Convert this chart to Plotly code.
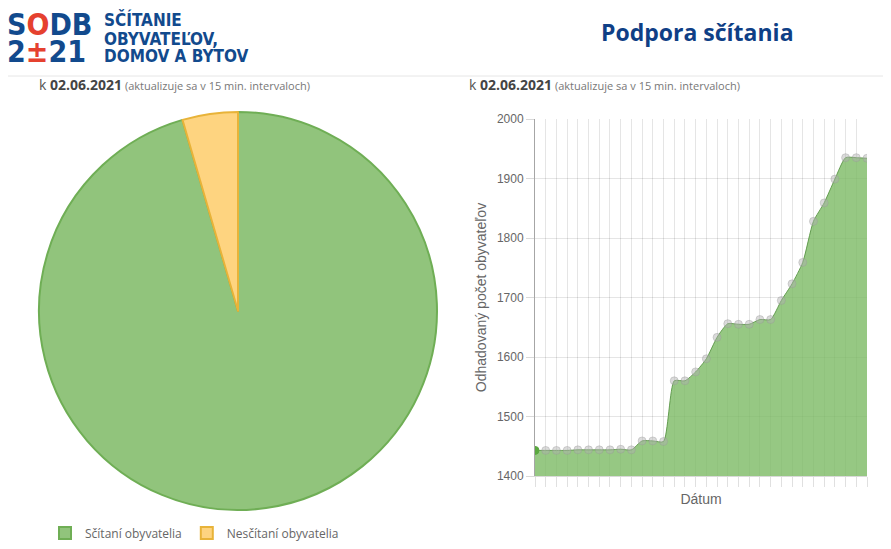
import plotly.graph_objects as go

# ---- data ----
pie_labels = ["Sčítaní obyvatelia", "Nesčítaní obyvatelia"]
pie_values = [95.5, 4.5]

dates = ["01.05.2021", "02.05.2021", "03.05.2021", "04.05.2021", "05.05.2021", "06.05.2021",
         "07.05.2021", "08.05.2021", "09.05.2021", "10.05.2021", "11.05.2021", "12.05.2021",
         "13.05.2021", "14.05.2021", "15.05.2021", "16.05.2021", "17.05.2021", "18.05.2021",
         "19.05.2021", "20.05.2021", "21.05.2021", "22.05.2021", "23.05.2021", "24.05.2021",
         "25.05.2021", "26.05.2021", "27.05.2021", "28.05.2021", "29.05.2021", "30.05.2021",
         "31.05.2021", "01.06.2021"]
estimate = [1443, 1443, 1443, 1443, 1444, 1444, 1444, 1444, 1445, 1444, 1459, 1459,
            1458, 1560, 1560, 1575, 1597, 1633, 1656, 1655, 1655, 1663, 1663, 1695,
            1723, 1759, 1828, 1859, 1899, 1935, 1935, 1934]
y_ticks = [1400, 1500, 1600, 1700, 1800, 1900, 2000]

# page is offset by the 8px body margin; map reference pixels to paper fractions
OFF = 8
W, H = 891 - OFF, 549 - OFF
def px(x): return (x - OFF) / W
def py(y): return 1 - (y - OFF) / H

BLUE = "#124a8d"
RED = "#e5412f"
GRAY = "#666666"

fig = go.Figure()

fig.add_trace(go.Pie(
    labels=pie_labels, values=pie_values, sort=False, direction="clockwise", rotation=0,
    textinfo="none", hoverinfo="label+value",
    marker=dict(colors=["#91c47c", "#fed480"],
                line=dict(color=["#6fae55", "#e8b339"], width=2)),
    domain=dict(x=[px(39), px(437)], y=[py(510), py(112)]),
    showlegend=True,
))

marker_colors = ["#5aa83f"] + ["rgba(175,175,175,0.45)"] * (len(dates) - 1)
marker_lines = ["#5aa83f"] + ["rgba(150,150,150,0.35)"] * (len(dates) - 1)
fig.add_trace(go.Scatter(
    x=dates, y=estimate, mode="lines+markers",
    line=dict(shape="spline", smoothing=0.6, color="rgba(90,150,70,0.9)", width=1),
    fill="tozeroy", fillcolor="rgba(124,186,100,0.8)",
    marker=dict(size=8, color=marker_colors, line=dict(color=marker_lines, width=1)),
    showlegend=False, xaxis="x", yaxis="y",
))

fig.update_layout(
    width=W, height=H, margin=dict(l=0, r=0, t=0, b=0, autoexpand=False),
    paper_bgcolor="white", plot_bgcolor="white",
    font=dict(family="Liberation Sans, Arial, sans-serif", color=GRAY),
    xaxis=dict(domain=[px(535), px(867)], type="category", range=[0, len(dates) - 1],
               automargin=False, tickmode="linear", tick0=0, dtick=1,
               showticklabels=False, ticks="outside", ticklen=10, tickcolor="rgba(0,0,0,0.12)",
               showgrid=True, gridcolor="rgba(0,0,0,0.1)", zeroline=False,
               showline=True, linecolor="rgba(0,0,0,0.15)",
               title=dict(text="Dátum", font=dict(size=14, color=GRAY), standoff=8)),
    yaxis=dict(domain=[py(476), py(119)], range=[1400, 2000], tickvals=y_ticks,
               automargin=False,
               ticks="outside", ticklen=8, tickcolor="rgba(0,0,0,0.15)",
               tickfont=dict(size=12, color=GRAY),
               showgrid=True, gridcolor="rgba(0,0,0,0.1)", zeroline=False,
               showline=True, linecolor="rgba(0,0,0,0.35)",
               title=dict(text="Odhadovaný počet obyvateľov", font=dict(size=14, color=GRAY), standoff=6)),
    legend=dict(orientation="h", x=px(45), y=py(533), xanchor="left", yanchor="middle",
                font=dict(size=12, color=GRAY, family="Open Sans, sans-serif"),
                itemwidth=30, bgcolor="rgba(0,0,0,0)"),
)

logo_font = "DejaVu Sans Condensed, DejaVu Sans, sans-serif"
fig.add_annotation(text=f"S<span style='color:{RED}'>O</span>DB", x=px(5), y=py(24), xref="paper", yref="paper",
                   xanchor="left", yanchor="middle", showarrow=False,
                   font=dict(family=logo_font, size=30, color=BLUE, weight="bold"))
fig.add_annotation(text=f"2<span style='color:{RED}'>±</span>21", x=px(5), y=py(51), xref="paper", yref="paper",
                   xanchor="left", yanchor="middle", showarrow=False,
                   font=dict(family=logo_font, size=30, color=BLUE, weight="bold"))
for txt, yy in [("SČÍTANIE", 19), ("OBYVATEĽOV,", 39), ("DOMOV A BYTOV", 56)]:
    fig.add_annotation(text=txt, x=px(102), y=py(yy), xref="paper", yref="paper",
                       xanchor="left", yanchor="middle", showarrow=False,
                       font=dict(family=logo_font, size=17, color=BLUE, weight="bold"))

fig.add_annotation(text="Podpora sčítania", x=px(697), y=py(32), xref="paper", yref="paper",
                   xanchor="center", yanchor="middle", showarrow=False,
                   font=dict(family="Open Sans, sans-serif", size=23, color="#0f3f86", weight="bold"))

fig.add_shape(type="line", xref="paper", yref="paper", x0=px(0), x1=1, y0=py(76), y1=py(76),
              line=dict(color="#e6e6e6", width=1))

sub = ("<span style='font-size:14px;color:#555'>k </span>"
       "<b style='font-size:14px;color:#444'>02.06.2021</b>"
       "<span style='font-size:11px;color:#777'> (aktualizuje sa v 15 min. intervaloch)</span>")
for xx in [37, 467]:
    fig.add_annotation(text=sub, x=px(xx), y=py(84), xref="paper", yref="paper",
                       xanchor="left", yanchor="middle", showarrow=False,
                       font=dict(family="Open Sans, sans-serif", size=14, color="#555"))

fig.write_html("out.html")
